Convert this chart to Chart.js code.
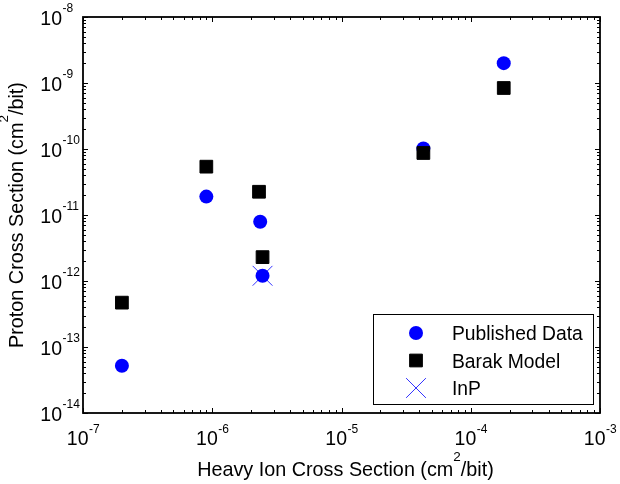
<!DOCTYPE html>
<html>
<head>
<meta charset="utf-8">
<script src="https://cdn.jsdelivr.net/npm/chart.js@4/dist/chart.umd.min.js"></script>
<style>
  html, body { margin: 0; padding: 0; background: #fff; }
</style>
</head>
<body>
<canvas id="chart" width="620" height="484"></canvas>
<script>
'use strict';

// proton vs heavy ion cross sections (cm^2/bit)
var publishedX = [2.0e-7, 9.0e-7, 2.35e-6, 2.45e-6, 4.3e-5, 1.8e-4];
var publishedY = [5.2e-14, 1.9e-11, 7.9e-12, 1.2e-12, 1.02e-10, 2.0e-9];
var barakX     = [2.0e-7, 9.0e-7, 2.3e-6, 2.45e-6, 4.3e-5, 1.8e-4];
var barakY     = [4.7e-13, 5.4e-11, 2.25e-11, 2.3e-12, 8.7e-11, 8.4e-10];
var inpX       = [2.45e-6];
var inpY       = [1.2e-12];

var seriesLabels = ['Published Data', 'Barak Model', 'InP'];

// decade exponents for the tick labels
var xDecades = [-7, -6, -5, -4, -3];
var yDecades = [-14, -13, -12, -11, -10, -9, -8];

var xTitle = ['Heavy Ion Cross Section (cm', '2', '/bit)'];
var yTitle = ['Proton Cross Section (cm', '2', '/bit)'];

var FONT = '"Liberation Sans", Arial, sans-serif';

function toPoints(xs, ys) {
  return xs.map(function (x, i) { return { x: x, y: ys[i] }; });
}

function tickValues(decades) {
  var out = [];
  decades.forEach(function (d, i) {
    out.push({ v: Math.pow(10, d), major: true });
    if (i < decades.length - 1) {
      for (var m = 2; m <= 9; m++) out.push({ v: m * Math.pow(10, d), major: false });
    }
  });
  return out;
}

// text with one raised piece, e.g. cm^2
function drawSupText(ctx, parts, cx, base, size, supSize, raise) {
  ctx.font = size + 'px ' + FONT;
  var w0 = ctx.measureText(parts[0]).width;
  var w2 = ctx.measureText(parts[2]).width;
  ctx.font = supSize + 'px ' + FONT;
  var w1 = ctx.measureText(parts[1]).width;
  var x = cx - (w0 + w1 + w2) / 2;
  ctx.textAlign = 'left';
  ctx.textBaseline = 'alphabetic';
  ctx.font = size + 'px ' + FONT;
  ctx.fillText(parts[0], x, base);
  ctx.font = supSize + 'px ' + FONT;
  ctx.fillText(parts[1], x + w0, base - raise);
  ctx.font = size + 'px ' + FONT;
  ctx.fillText(parts[2], x + w0 + w1, base);
}

function powerWidths(ctx, exp) {
  ctx.font = '19.5px ' + FONT;
  var a = ctx.measureText('10').width;
  ctx.font = '12px ' + FONT;
  var b = ctx.measureText(String(exp)).width;
  return [a, b];
}

function drawPower(ctx, exp, left, base) {
  var w = powerWidths(ctx, exp);
  ctx.textAlign = 'left';
  ctx.textBaseline = 'alphabetic';
  ctx.font = '19.5px ' + FONT;
  ctx.fillText('10', left, base);
  ctx.font = '12px ' + FONT;
  ctx.fillText(String(exp), left + w[0] + 0.5, base - 12.5);
}

var axesFrame = {
  id: 'axesFrame',
  afterDraw: function (chart) {
    var ctx = chart.ctx;
    var a = chart.chartArea;
    var xs = chart.scales.x, ys = chart.scales.y;
    ctx.save();
    ctx.fillStyle = '#000';
    ctx.strokeStyle = '#000';

    // tick marks on all four sides, pointing inwards
    ctx.lineWidth = 1;
    ctx.beginPath();
    tickValues(xDecades).forEach(function (t) {
      var px = Math.round(xs.getPixelForValue(t.v)) + 0.5;
      var len = t.major ? 5 : 3;
      ctx.moveTo(px, a.bottom); ctx.lineTo(px, a.bottom - len);
      ctx.moveTo(px, a.top); ctx.lineTo(px, a.top + len);
    });
    tickValues(yDecades).forEach(function (t) {
      var py = Math.round(ys.getPixelForValue(t.v)) + 0.5;
      var len = t.major ? 5 : 3;
      ctx.moveTo(a.left, py); ctx.lineTo(a.left + len, py);
      ctx.moveTo(a.right, py); ctx.lineTo(a.right - len, py);
    });
    ctx.stroke();

    ctx.lineWidth = 1.8;
    ctx.strokeRect(a.left, a.top, a.right - a.left, a.bottom - a.top);

    // decade labels
    xDecades.forEach(function (d) {
      var px = xs.getPixelForValue(Math.pow(10, d));
      var w = powerWidths(ctx, d);
      drawPower(ctx, d, px - (w[0] + w[1]) / 2, a.bottom + 32);
    });
    yDecades.forEach(function (d) {
      var py = ys.getPixelForValue(Math.pow(10, d));
      var w = powerWidths(ctx, d);
      drawPower(ctx, d, 62 - w[0], py + 7.5);
    });

    // axis titles
    drawSupText(ctx, xTitle, (a.left + a.right) / 2 + 4, 476, 19.8, 13.5, 15);
    ctx.save();
    ctx.translate(22.5, (a.top + a.bottom) / 2);
    ctx.rotate(-Math.PI / 2);
    drawSupText(ctx, yTitle, 0, 0, 19.8, 13.5, 15);
    ctx.restore();

    // legend box in the lower right corner
    var box = { left: 373.5, top: 314.5, right: 593.5, bottom: 404.5 };
    ctx.fillStyle = '#fff';
    ctx.fillRect(box.left, box.top, box.right - box.left, box.bottom - box.top);
    ctx.lineWidth = 1;
    ctx.strokeRect(box.left, box.top, box.right - box.left, box.bottom - box.top);

    var rowY = [333, 360.5, 388];
    [0, 1, 2].forEach(function (i, r) {
      var ds = chart.data.datasets[i];
      ctx.fillStyle = ds.backgroundColor;
      ctx.strokeStyle = ds.borderColor;
      ctx.lineWidth = ds.borderWidth;
      Chart.helpers.drawPoint(ctx, {
        pointStyle: ds.pointStyle,
        radius: ds.pointRadius,
        rotation: 0,
        borderWidth: ds.borderWidth
      }, 416, rowY[r]);
      ctx.fillStyle = '#000';
      ctx.font = '19.3px ' + FONT;
      ctx.textAlign = 'left';
      ctx.textBaseline = 'alphabetic';
      ctx.fillText(ds.label, 452, rowY[r] + 7);
    });

    ctx.restore();
  }
};

new Chart(document.getElementById('chart').getContext('2d'), {
  type: 'scatter',
  data: {
    datasets: [
      {
        label: seriesLabels[0],
        data: toPoints(publishedX, publishedY),
        pointStyle: 'circle',
        pointRadius: 7,
        backgroundColor: '#0000ff',
        borderColor: '#0000ff',
        borderWidth: 0,
        order: 1
      },
      {
        label: seriesLabels[1],
        data: toPoints(barakX, barakY),
        pointStyle: 'rect',
        pointRadius: 9,
        backgroundColor: '#000000',
        borderColor: '#000000',
        borderWidth: 1,
        order: 0
      },
      {
        label: seriesLabels[2],
        data: toPoints(inpX, inpY),
        pointStyle: 'crossRot',
        pointRadius: 14,
        backgroundColor: '#3333ff',
        borderColor: '#3333ff',
        borderWidth: 1,
        order: 2
      }
    ]
  },
  options: {
    responsive: false,
    animation: false,
    layout: { padding: { left: 83, top: 17, right: 20, bottom: 71 } },
    plugins: {
      legend: { display: false },
      tooltip: { enabled: false }
    },
    scales: {
      x: { type: 'logarithmic', min: 1e-7, max: 1e-3, display: false },
      y: { type: 'logarithmic', min: 1e-14, max: 1e-8, display: false }
    }
  },
  plugins: [axesFrame]
});
</script>
</body>
</html>
